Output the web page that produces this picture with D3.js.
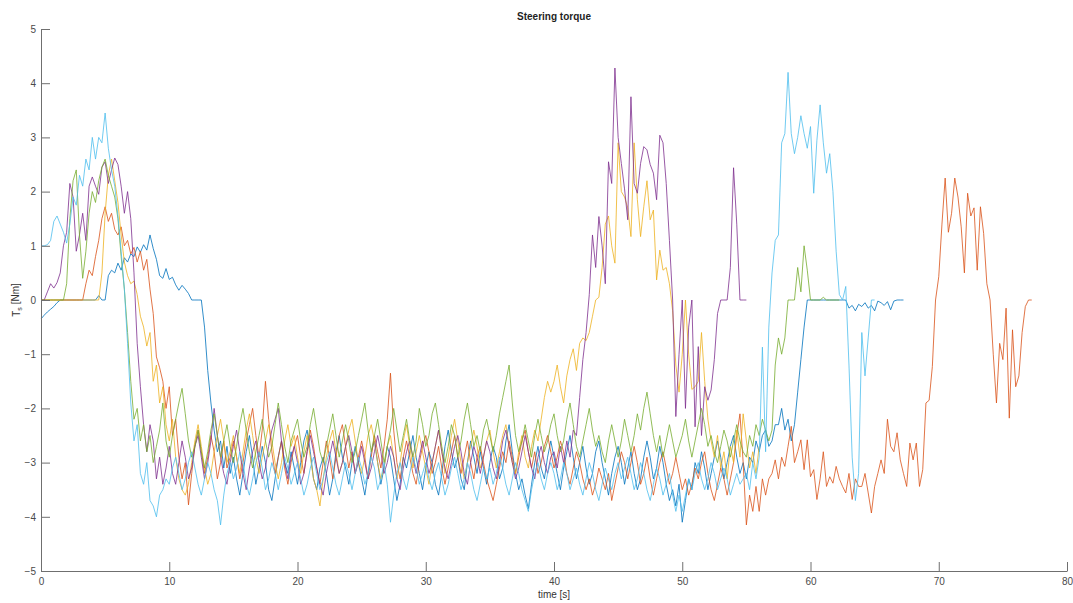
<!DOCTYPE html>
<html>
<head>
<meta charset="utf-8">
<script src="https://cdn.jsdelivr.net/npm/d3@7"></script>
<style>
  html, body { margin: 0; padding: 0; background: #ffffff; }
  svg text { font-family: "Liberation Sans", Arial, Helvetica, sans-serif; }
</style>
</head>
<body>
<svg id="chart" width="1073" height="603"></svg>
<script>
// Steering torque of six runs, sampled every 0.25 s starting at t = 0.
const timeStep = 0.25;
const xTicks = [0, 10, 20, 30, 40, 50, 60, 70, 80];
const yTicks = [-5, -4, -3, -2, -1, 0, 1, 2, 3, 4, 5];

// Run 1 (0 – 67.25 s)
const torqueRun1 = [
  -0.35,-0.28,-0.22,-0.17,-0.12,-0.05,0,0,0,0,0,0,0,0,0,0,0,0,0.08,0,
  0,0.45,0.55,0.5,0.68,0.55,0.78,0.7,0.85,0.8,0.98,0.88,1.02,0.92,1.2,0.95,0.75,0.45,0.4,0.58,
  0.38,0.42,0.28,0.18,0.27,0.2,0.12,0,0,0,0,-0.5,-1.3,-1.9,-2.4,-2.8,-2.6,-3.1,-2.7,-3.2,
  -2.9,-3.3,-3.6,-3.2,-2.8,-2.5,-2.9,-3.4,-3.1,-2.7,-3.0,-3.5,-3.7,-3.3,-2.9,-2.6,-3.0,-3.2,-2.8,-3.1,
  -3.4,-3.0,-2.6,-2.4,-2.8,-3.3,-3.5,-3.1,-2.9,-3.2,-3.6,-3.3,-2.8,-2.5,-2.9,-3.1,-3.4,-3.0,-2.7,-3.0,
  -3.3,-3.6,-3.2,-2.8,-2.6,-3.0,-3.4,-3.1,-2.7,-2.9,-3.3,-3.7,-3.4,-2.9,-3.1,-2.8,-2.5,-2.9,-3.2,-3.5,
  -3.1,-2.8,-3.0,-3.4,-3.6,-3.2,-2.7,-2.4,-2.8,-3.1,-2.9,-3.3,-3.5,-3.0,-2.6,-2.9,-3.2,-2.8,-3.1,-3.4,
  -3.0,-2.7,-2.9,-3.3,-3.1,-2.6,-2.3,-2.8,-3.2,-3.5,-3.3,-3.6,-3.85,-3.4,-3.0,-2.7,-3.1,-3.3,-2.9,-2.6,
  -2.9,-3.2,-3.5,-3.1,-2.8,-2.5,-2.9,-3.3,-3.0,-2.7,-3.1,-3.4,-3.2,-2.8,-2.6,-3.0,-3.3,-3.6,-3.2,-2.9,
  -2.7,-3.0,-3.4,-3.1,-2.8,-3.2,-3.5,-3.3,-2.9,-2.6,-2.9,-3.3,-3.1,-2.7,-3.0,-3.4,-3.7,-3.5,-3.8,-3.4,
  -4.1,-3.7,-3.3,-3.5,-3.0,-3.2,-2.8,-3.1,-3.5,-3.2,-2.9,-2.6,-2.9,-3.3,-3.0,-2.7,-2.5,-2.9,-3.2,-3.0,
  -3.3,-2.9,-3.0,-2.6,-2.8,-2.5,-2.4,-2.7,-2.6,-2.3,-2.3,-2.0,-2.4,-2.2,-2.6,-2.3,-1.7,-1.1,-0.5,0,
  0,0,0,0,0,0,0,0,0,0,0,0,-0.15,-0.1,-0.2,-0.08,-0.12,-0.05,-0.15,-0.1,
  -0.2,-0.02,-0.05,-0.1,-0.03,-0.18,-0.02,0,0,0
];

// Run 2 (0 – 77.25 s)
const torqueRun2 = [
  0,0,0,0,0,0,0,0,0,0,0,0,0,0,0.3,0.55,0.45,0.8,1.1,1.5,
  1.72,1.45,1.6,1.3,1.2,1.35,1.0,1.1,0.85,0.97,0.7,0.9,0.55,0.75,0.2,-0.25,-1.05,-1.25,-1.5,-2.0,
  -1.6,-2.5,-2.2,-2.9,-3.3,-3.0,-3.78,-3.2,-2.7,-2.4,-2.8,-3.2,-2.9,-2.5,-2.8,-3.3,-3.0,-2.6,-3.1,-2.9,
  -2.6,-2.9,-3.3,-3.0,-2.6,-2.3,-2.0,-2.5,-2.9,-2.4,-1.5,-2.2,-2.8,-3.2,-2.9,-2.6,-3.1,-3.4,-3.0,-2.7,
  -2.5,-2.9,-3.2,-2.8,-2.4,-2.7,-3.1,-3.4,-3.0,-2.6,-2.9,-3.3,-2.9,-2.5,-2.3,-2.7,-3.1,-2.8,-3.2,-2.9,
  -2.6,-2.9,-3.3,-2.9,-2.5,-2.8,-3.1,-2.7,-2.2,-1.35,-2.4,-3.0,-3.3,-2.9,-2.6,-2.9,-3.2,-3.4,-3.0,-2.7,
  -2.5,-2.8,-3.2,-3.0,-2.7,-3.1,-3.4,-3.1,-2.8,-2.5,-2.9,-3.2,-2.9,-2.6,-3.0,-3.3,-2.9,-2.7,-3.0,-3.3,
  -3.5,-3.7,-3.4,-3.1,-2.8,-3.0,-2.6,-2.9,-3.2,-2.9,-2.6,-2.4,-2.8,-3.1,-2.8,-3.2,-3.0,-2.7,-2.5,-2.8,
  -3.1,-2.9,-2.6,-2.8,-3.2,-3.4,-3.1,-2.8,-3.0,-3.3,-3.5,-3.3,-3.6,-3.4,-3.1,-3.3,-3.5,-3.2,-3.7,-3.4,
  -3.1,-2.8,-3.0,-3.3,-3.0,-2.7,-3.0,-3.4,-3.2,-2.9,-3.3,-3.6,-3.3,-3.0,-2.8,-3.1,-3.4,-3.2,-2.9,-3.2,
  -3.5,-3.3,-3.6,-3.4,-3.1,-3.3,-3.0,-2.8,-3.2,-3.5,-3.7,-3.4,-3.1,-3.3,-3.6,-3.3,-3.0,-2.5,-2.1,-3.0,
  -4.15,-3.6,-3.9,-3.44,-3.9,-3.3,-3.6,-3.3,-3.2,-2.95,-3.3,-2.9,-3.07,-2.7,-2.33,-3.0,-2.8,-2.58,-3.13,-2.58,
  -3.26,-3.13,-3.68,-3.3,-2.8,-3.44,-3.26,-3.38,-3.07,-3.3,-3.44,-3.56,-3.2,-3.68,-3.3,-3.44,-3.44,-3.2,-3.56,-3.93,
  -3.44,-3.2,-2.95,-3.2,-2.2,-2.7,-2.8,-2.45,-2.95,-3.2,-3.44,-2.64,-2.95,-2.64,-3.44,-3.13,-1.9,-1.85,-1.23,0,
  0.43,1.4,2.25,1.25,1.6,2.25,1.9,1.35,0.5,1.97,1.55,1.7,0.55,1.72,1.23,0.3,0,-1.0,-1.9,-0.8,
  -1.1,-0.15,-2.18,-0.55,-1.6,-1.4,-0.6,-0.12,0,0
];

// Run 3 (0 – 56 s)
const torqueRun3 = [
  0,0,0,0,0,0,0,0,0,0,0,0,0,0,0,0,0,0,0,0.5,
  1.6,2.3,2.6,2.2,1.8,1.2,0.7,0.45,0.3,0.35,0.1,-0.3,-0.5,-0.85,-0.6,-1.5,-1.2,-1.9,-1.6,-2.3,
  -2.6,-2.2,-2.9,-3.3,-3.5,-3.6,-3.4,-3.0,-2.6,-2.3,-2.7,-3.1,-3.4,-3.2,-2.8,-2.5,-2.2,-2.6,-3.0,-2.8,
  -2.5,-2.9,-3.2,-2.8,-2.4,-2.1,-2.5,-2.9,-3.2,-2.9,-2.6,-2.3,-2.6,-3.0,-3.3,-3.0,-2.6,-2.3,-2.7,-2.5,
  -2.9,-3.2,-2.8,-2.5,-2.9,-3.3,-3.5,-3.8,-3.3,-2.9,-2.6,-2.4,-2.8,-3.2,-3.0,-2.7,-2.4,-2.2,-2.6,-3.0,
  -3.2,-2.9,-2.5,-2.3,-2.6,-3.0,-3.3,-3.1,-2.7,-2.5,-2.9,-3.3,-3.0,-2.6,-2.3,-2.7,-3.1,-2.8,-2.5,-2.8,
  -3.1,-3.4,-3.0,-2.7,-2.4,-2.8,-3.2,-2.9,-2.5,-2.2,-2.6,-3.0,-3.3,-3.0,-2.7,-2.4,-2.7,-3.1,-2.9,-2.6,
  -2.4,-2.8,-3.1,-2.8,-2.5,-2.3,-2.7,-3.0,-3.2,-2.8,-2.5,-2.9,-3.1,-2.7,-2.4,-2.6,-2.2,-1.8,-1.5,-1.7,
  -1.5,-1.2,-1.6,-1.9,-1.4,-1.1,-0.9,-1.3,-0.8,-0.7,-0.75,-0.6,-0.3,0,0.05,0.6,1.4,1.55,1.0,0.68,
  2.9,2.0,1.9,1.7,1.17,2.9,1.85,1.17,1.72,2.2,1.48,1.66,0.37,0.92,0.55,0.6,0.3,-0.2,-1.2,-1.7,
  -1.0,0,-1.0,-1.65,-1.6,-1.5,-0.6,-1.5,-2.2,-2.6,-2.9,-2.5,-3.1,-2.8,-3.3,-2.7,-3.0,-2.4,-2.9,-2.1,
  -2.6,-3.1,-2.8,-3.2,-2.7
];

// Run 4 (0 – 55 s)
const torqueRun4 = [
  0,0,0.15,0.3,0.22,0.32,0.5,1.0,1.25,2.15,1.9,0.9,1.2,1.6,1.1,2.1,2.27,2.1,1.95,2.45,
  2.55,2.15,2.4,2.62,2.5,2.1,1.6,2.0,1.5,0.5,-0.8,-1.6,-2.3,-2.8,-2.3,-2.6,-3.3,-2.9,-3.4,-3.1,
  -2.7,-3.2,-3.4,-3.0,-2.6,-2.9,-3.3,-3.1,-2.7,-2.5,-2.9,-3.3,-3.0,-2.6,-2.0,-2.5,-2.9,-3.2,-3.4,-3.0,
  -2.7,-2.4,-2.8,-3.2,-3.5,-3.1,-2.8,-2.6,-3.0,-3.3,-3.1,-2.7,-2.4,-2.2,-2.0,-2.6,-3.0,-3.3,-2.9,-2.7,
  -3.0,-3.4,-3.2,-2.8,-2.5,-2.8,-3.1,-3.4,-3.6,-3.2,-2.9,-2.6,-2.9,-3.2,-3.0,-2.7,-2.5,-2.8,-3.2,-3.0,
  -2.7,-3.0,-3.3,-3.1,-2.8,-2.5,-2.8,-3.2,-3.0,-2.7,-2.9,-3.3,-3.5,-3.1,-2.8,-2.6,-2.9,-3.2,-2.9,-2.6,
  -2.9,-3.2,-3.0,-2.7,-2.4,-2.8,-3.1,-3.3,-3.0,-2.7,-2.5,-2.8,-3.2,-3.4,-3.0,-2.7,-2.9,-3.2,-2.9,-2.6,
  -2.8,-3.1,-3.3,-3.0,-2.6,-2.4,-2.7,-3.0,-3.3,-3.1,-2.8,-2.5,-2.8,-3.1,-3.3,-2.9,-2.7,-3.0,-3.2,-2.9,
  -2.8,-3.1,-2.7,-3.0,-2.6,-2.9,-2.4,-2.5,-1.8,-1.1,-0.6,0.1,1.2,0.6,1.54,1.0,0.3,2.55,2.15,4.28,
  3.0,2.52,2.05,1.48,3.75,2.15,1.97,2.52,2.83,2.77,2.5,2.34,1.85,3.04,2.9,2.15,1.1,0,-2.15,-1.0,
  0,-2.0,-0.5,0,-2.34,-0.86,-2.5,-1.6,-1.85,-1.66,-1.1,-0.25,0,0,0,0.6,2.44,1.4,0,0,
  0
];

// Run 5 (0 – 62.25 s)
const torqueRun5 = [
  0,0,0,0,0,0,0,0,0.3,1.5,2.2,2.4,1.2,0.4,0.9,1.6,2.0,1.8,2.2,2.45,
  2.6,2.3,2.1,1.9,1.5,0.8,0.2,-0.6,-1.5,-2.2,-2.0,-2.6,-2.3,-2.8,-2.5,-3.0,-2.7,-2.4,-1.9,-2.6,
  -2.9,-2.5,-2.2,-1.9,-1.63,-2.1,-2.6,-2.9,-2.7,-2.4,-2.8,-3.1,-2.8,-2.4,-2.1,-2.5,-2.9,-2.6,-2.3,-2.7,
  -3.0,-2.7,-2.3,-2.0,-2.4,-2.8,-3.1,-2.8,-2.5,-2.2,-2.6,-2.9,-2.7,-2.3,-1.9,-2.3,-2.7,-3.0,-2.6,-2.4,
  -2.2,-2.6,-2.9,-2.7,-2.3,-2.0,-2.4,-2.8,-3.0,-2.7,-2.4,-2.1,-2.5,-2.9,-2.6,-2.3,-2.6,-3.0,-2.8,-2.5,
  -2.2,-1.9,-2.4,-2.8,-2.5,-2.2,-2.6,-3.0,-2.7,-2.4,-2.0,-2.4,-2.8,-2.5,-2.2,-2.6,-2.9,-2.6,-2.0,-2.3,
  -2.7,-2.5,-2.1,-1.9,-2.3,-2.7,-3.0,-2.7,-2.3,-2.5,-2.9,-2.6,-2.2,-1.9,-2.3,-2.7,-2.5,-2.8,-2.4,-2.2,
  -2.5,-2.8,-2.5,-2.1,-1.8,-1.5,-1.2,-1.9,-2.5,-2.8,-2.6,-2.3,-2.6,-2.9,-2.5,-2.2,-2.5,-2.8,-2.6,-2.3,
  -2.1,-2.5,-2.8,-2.6,-2.2,-1.9,-2.3,-2.7,-2.9,-2.6,-2.3,-2.0,-2.4,-2.7,-2.5,-2.8,-3.0,-2.6,-2.3,-2.6,
  -2.9,-2.6,-2.2,-2.5,-2.8,-2.5,-2.1,-2.4,-2.0,-1.7,-2.1,-2.5,-2.8,-2.5,-2.9,-2.6,-2.3,-2.6,-2.9,-2.7,
  -2.5,-2.2,-2.6,-2.9,-2.6,-2.3,-2.0,-2.3,-2.7,-2.5,-2.8,-3.0,-2.7,-2.4,-2.6,-2.9,-2.6,-2.3,-2.6,-2.8,
  -2.9,-2.5,-2.7,-2.3,-2.5,-2.2,-2.4,-2.6,-2.4,-1.2,-0.7,-1.0,-0.7,0,0,0,0.6,0.15,1.0,0.55,
  0,0,0,0,0.05,0,0,0,0,0
];

// Run 6 (0 – 65 s)
const torqueRun6 = [
  1.0,1.0,1.02,1.1,1.45,1.55,1.4,1.25,1.05,1.4,1.9,1.75,2.3,2.1,2.6,2.4,3.0,2.6,3.0,2.9,
  3.45,2.8,2.4,2.1,1.55,0.9,0.2,-0.8,-1.9,-2.6,-2.3,-3.2,-3.4,-3.0,-3.7,-3.8,-4.0,-3.6,-3.5,-3.3,
  -3.4,-3.1,-2.9,-3.2,-3.5,-3.3,-3.0,-2.8,-3.1,-3.4,-3.6,-3.3,-3.0,-3.2,-3.5,-3.7,-4.15,-3.6,-3.2,-3.0,
  -3.3,-3.1,-2.8,-3.0,-3.4,-3.6,-3.3,-3.0,-2.8,-3.1,-3.5,-3.3,-3.0,-3.2,-3.5,-3.2,-2.9,-3.1,-3.4,-3.2,
  -3.0,-3.3,-3.6,-3.4,-3.1,-2.9,-3.2,-3.5,-3.3,-3.0,-2.8,-3.1,-3.4,-3.6,-3.3,-3.0,-3.2,-3.5,-3.2,-2.9,
  -3.1,-3.4,-3.2,-2.9,-3.1,-3.5,-3.3,-3.0,-3.4,-4.1,-3.6,-3.2,-3.0,-3.3,-3.5,-3.2,-2.9,-3.1,-3.4,-3.2,
  -3.0,-3.3,-3.5,-3.2,-3.0,-3.3,-3.6,-3.4,-3.1,-2.9,-3.2,-3.5,-3.3,-3.0,-3.2,-3.5,-3.7,-3.4,-3.1,-3.3,
  -3.1,-3.4,-3.2,-2.9,-3.1,-3.4,-3.6,-3.3,-3.0,-3.2,-3.5,-3.7,-3.9,-3.5,-3.2,-3.0,-3.3,-3.5,-3.2,-3.0,
  -3.2,-3.5,-3.3,-3.0,-3.2,-3.5,-3.3,-3.1,-3.4,-3.6,-3.3,-3.0,-3.2,-3.5,-3.7,-3.4,-3.1,-3.3,-3.5,-3.2,
  -3.0,-3.3,-3.1,-2.9,-3.2,-3.5,-3.3,-3.0,-3.2,-3.5,-3.7,-3.4,-3.1,-3.3,-3.6,-3.4,-3.2,-3.6,-3.9,-3.6,
  -3.9,-3.6,-3.3,-3.5,-3.2,-3.0,-3.3,-3.5,-3.3,-3.0,-3.2,-3.5,-3.3,-3.1,-3.3,-3.6,-3.4,-3.2,-3.4,-3.3,
  -3.2,-3.5,-3.0,-3.3,-2.9,-0.87,-2.8,-0.5,0.5,1.1,1.2,2.9,3.07,4.2,3.07,2.7,3.0,3.4,3.07,2.8,
  3.2,1.97,2.95,3.6,2.9,2.34,2.7,2.0,0.9,0.1,0,0.25,-1.2,-2.9,-3.7,-3.2,-0.6,-1.4,-0.7,0,
  0
];

// Default MATLAB line colour order
const runColors = ["#0072BD", "#D95319", "#EDB120", "#7E2F8E", "#77AC30", "#4DBEEE"];
const runs = [torqueRun1, torqueRun2, torqueRun3, torqueRun4, torqueRun5, torqueRun6];

const svg = d3.select("#chart");
const plotLeft = 41, plotRight = 1067, plotTop = 29, plotBottom = 571;

const x = d3.scaleLinear().domain([0, 80]).range([plotLeft, plotRight]);
const y = d3.scaleLinear().domain([-5, 5]).range([plotBottom, plotTop]);

const line = d3.line()
  .x((d, i) => x(i * timeStep))
  .y(d => y(d));

svg.append("g")
  .selectAll("path")
  .data(runs)
  .join("path")
  .attr("d", d => line(d))
  .attr("fill", "none")
  .attr("stroke", (d, i) => runColors[i])
  .attr("stroke-width", 1)
  .attr("stroke-opacity", 0.8)
  .attr("stroke-linejoin", "round");

const axisColor = "#6f6f6f";
const labelColor = "#4a4a4a";

const xAxis = svg.append("g")
  .attr("transform", `translate(0,${plotBottom})`)
  .call(d3.axisBottom(x).tickValues(xTicks).tickSizeInner(-9).tickSizeOuter(0).tickPadding(7));
const yAxis = svg.append("g")
  .attr("transform", `translate(${plotLeft},0)`)
  .call(d3.axisLeft(y).tickValues(yTicks).tickSizeInner(-9).tickSizeOuter(0).tickPadding(5));

[xAxis, yAxis].forEach(g => {
  g.select(".domain").attr("stroke", axisColor).attr("stroke-width", 1);
  g.selectAll(".tick line").attr("stroke", axisColor).attr("stroke-width", 1);
  g.selectAll(".tick text")
    .attr("fill", labelColor)
    .style("font-size", "10px")
    .style("font-family", "'Liberation Sans', Arial, Helvetica, sans-serif");
});

// Title
svg.append("text")
  .attr("x", (plotLeft + plotRight) / 2)
  .attr("y", 19.5)
  .attr("text-anchor", "middle")
  .attr("fill", "#1f1f1f")
  .style("font-size", "10px")
  .style("font-weight", "bold")
  .text("Steering torque");

// Axis labels
svg.append("text")
  .attr("x", (plotLeft + plotRight) / 2)
  .attr("y", 598)
  .attr("text-anchor", "middle")
  .attr("fill", "#333")
  .style("font-size", "10px")
  .text("time [s]");

const yLabel = svg.append("text")
  .attr("transform", `translate(20,${(plotTop + plotBottom) / 2}) rotate(-90)`)
  .attr("text-anchor", "middle")
  .attr("fill", "#333")
  .style("font-size", "10px");
yLabel.append("tspan").text("T");
yLabel.append("tspan").attr("dy", "0.3em").style("font-size", "7px").text("s");
yLabel.append("tspan").attr("dy", "-0.3em").text(" [Nm]");
</script>
</body>
</html>
